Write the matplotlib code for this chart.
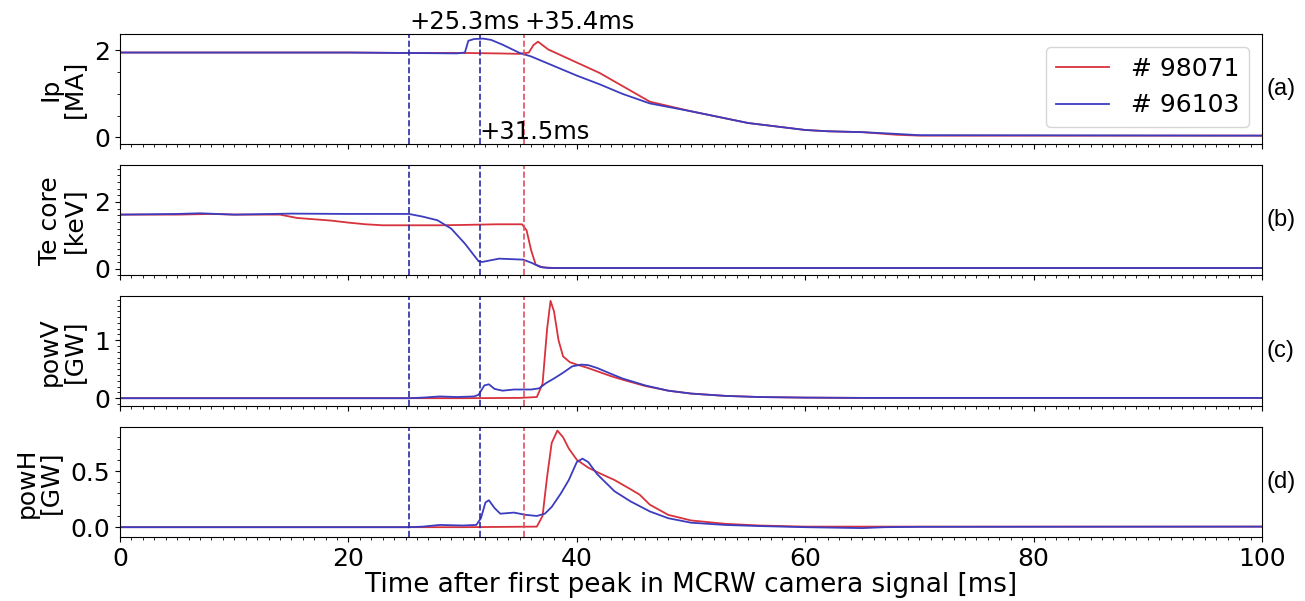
import matplotlib
matplotlib.use("Agg")
import matplotlib.pyplot as plt
from matplotlib.ticker import MultipleLocator

# shot labels
shots = ["# 98071", "# 96103"]

# event times [ms]
t_events = [25.3, 31.5, 35.4]

# Ip [MA]
ip_t_r = [0, 10, 20, 25, 30, 33, 35, 35.8, 36.2, 36.6, 37.5, 38.5, 40, 42, 44, 46.4, 50, 55, 60, 62, 65, 68, 70, 80, 90, 100]
ip_v_r = [1.95, 1.95, 1.95, 1.94, 1.94, 1.93, 1.92, 1.95, 2.12, 2.2, 2.02, 1.9, 1.72, 1.48, 1.18, 0.82, 0.6, 0.33, 0.17, 0.14, 0.12, 0.06, 0.04, 0.04, 0.04, 0.04]
ip_t_b = [0, 10, 20, 25, 29.5, 30.2, 30.5, 31.0, 31.8, 32.5, 33.5, 35, 36, 38, 40, 42, 44, 46.4, 50, 55, 60, 62, 65, 68, 70, 100]
ip_v_b = [1.95, 1.95, 1.95, 1.94, 1.93, 1.95, 2.22, 2.26, 2.27, 2.24, 2.13, 1.94, 1.86, 1.64, 1.42, 1.22, 1.0, 0.78, 0.6, 0.33, 0.17, 0.14, 0.12, 0.08, 0.05, 0.04]

# Te core [keV]
te_t_r = [0, 5, 8, 10, 14, 15.5, 17, 18.5, 20, 21.5, 23, 25, 28, 30, 33, 35.2, 35.6, 36.0, 36.4, 37, 38, 100]
te_v_r = [1.62, 1.62, 1.64, 1.62, 1.62, 1.52, 1.48, 1.44, 1.38, 1.33, 1.30, 1.30, 1.30, 1.31, 1.33, 1.33, 1.15, 0.55, 0.12, 0.04, 0.02, 0.02]
te_t_b = [0, 5, 7, 10, 15, 20, 25.3, 26.5, 27.8, 29, 30.2, 31.4, 31.7, 33.2, 35.3, 36, 36.8, 37.5, 100]
te_v_b = [1.62, 1.64, 1.66, 1.62, 1.65, 1.64, 1.64, 1.56, 1.45, 1.2, 0.75, 0.22, 0.2, 0.3, 0.27, 0.18, 0.05, 0.02, 0.02]

# powV [GW]
pv_t_r = [0, 25, 30, 35, 36.5, 37.0, 37.4, 37.7, 38.0, 38.4, 38.8, 39.4, 40, 41, 42, 43, 44, 46, 48, 50, 53, 56, 60, 65, 100]
pv_v_r = [0, 0, 0, 0.005, 0.02, 0.25, 1.2, 1.68, 1.5, 1.0, 0.72, 0.62, 0.58, 0.52, 0.45, 0.38, 0.32, 0.21, 0.13, 0.08, 0.04, 0.02, 0.01, 0.005, 0.005]
pv_t_b = [0, 25.3, 26.5, 28, 29.5, 31, 31.4, 31.9, 32.3, 32.8, 33.5, 34.5, 36, 36.7, 37.3, 38, 38.8, 39.6, 40.4, 41, 41.8, 43, 44, 46, 48, 50, 53, 56, 60, 65, 100]
pv_v_b = [0, 0, 0.01, 0.03, 0.02, 0.03, 0.06, 0.22, 0.24, 0.16, 0.13, 0.15, 0.15, 0.17, 0.26, 0.34, 0.44, 0.55, 0.58, 0.57, 0.52, 0.42, 0.34, 0.22, 0.13, 0.08, 0.04, 0.02, 0.01, 0.005, 0.005]

# powH [GW]
ph_t_r = [0, 30, 36.5, 37.0, 37.4, 37.8, 38.3, 38.8, 39.3, 40, 41, 42, 43.3, 44.5, 45.5, 46.4, 48, 50, 53, 56, 60, 65, 100]
ph_v_r = [0, 0, 0.005, 0.1, 0.45, 0.75, 0.86, 0.8, 0.7, 0.6, 0.53, 0.48, 0.42, 0.35, 0.29, 0.2, 0.11, 0.06, 0.03, 0.015, 0.005, 0.005, 0.005]
ph_t_b = [0, 25.3, 26.5, 28, 30, 31.2, 31.6, 32.0, 32.3, 32.8, 33.3, 34.5, 35.5, 36.5, 37.2, 37.8, 38.6, 39.3, 40.0, 40.5, 41, 41.8, 43.3, 44.7, 46.4, 48, 50, 53, 56, 60, 65, 67, 70, 100]
ph_v_b = [0, 0, 0.005, 0.02, 0.015, 0.02, 0.08, 0.22, 0.24, 0.17, 0.12, 0.13, 0.11, 0.1, 0.12, 0.18, 0.3, 0.42, 0.58, 0.61, 0.58, 0.47, 0.32, 0.23, 0.14, 0.08, 0.04, 0.02, 0.01, 0.0, -0.008, 0.0, 0.003, 0.005]

RED = "#d8323c"
BLUE = "#3c3cc0"

panels = [
    ("Ip\n[MA]", (ip_t_r, ip_v_r), (ip_t_b, ip_v_b), (-0.16, 2.37), 2, 0.5, "(a)"),
    ("Te core\n[keV]", (te_t_r, te_v_r), (te_t_b, te_v_b), (-0.2, 3.1), 2, 0.2, "(b)"),
    ("powV\n[GW]", (pv_t_r, pv_v_r), (pv_t_b, pv_v_b), (-0.14, 1.76), 1, 0.1, "(c)"),
    ("powH\n[GW]", (ph_t_r, ph_v_r), (ph_t_b, ph_v_b), (-0.09, 0.89), 0.5, 0.1, "(d)"),
]

fig, axes = plt.subplots(4, 1, sharex=True, figsize=(13.05, 6.01), dpi=100)
fig.subplots_adjust(left=0.092, right=0.967, bottom=0.106, top=0.943, hspace=0.19)

for ax, (ylab, red, blue, ylim, major, minor, tag) in zip(axes, panels):
    ax.plot(red[0], red[1], color=RED, lw=1.3, label=shots[0])
    ax.plot(blue[0], blue[1], color=BLUE, lw=1.3, label=shots[1])
    ax.axvline(t_events[0], color="#2a2aa8", ls="--", lw=1.2)
    ax.axvline(t_events[1], color="#2a2aa8", ls="--", lw=1.2)
    ax.axvline(t_events[2], color="#e05060", ls="--", lw=1.2)
    ax.set_ylim(*ylim)
    ax.set_xlim(0, 100)
    ax.yaxis.set_major_locator(MultipleLocator(major))
    ax.yaxis.set_minor_locator(MultipleLocator(minor))
    ax.xaxis.set_major_locator(MultipleLocator(20))
    ax.xaxis.set_minor_locator(MultipleLocator(1))
    ax.tick_params(labelsize=18)
    ax.set_ylabel(ylab, fontsize=18, linespacing=1.0, labelpad=6)
    ax.text(1.004, 0.5, tag, transform=ax.transAxes, fontsize=17,
            family="Liberation Sans", va="center", ha="left")

axes[0].legend(loc="upper right", fontsize=18, handlelength=2.1,
               handletextpad=0.9, borderpad=0.4)
xt = axes[0].get_xaxis_transform()
axes[0].text(t_events[0], 1.0, "+25.3ms", transform=xt, fontsize=17.5, ha="left", va="bottom")
axes[0].text(t_events[2], 1.0, "+35.4ms", transform=xt, fontsize=17.5, ha="left", va="bottom")
axes[0].text(t_events[1], 0.0, "+31.5ms", transform=xt, fontsize=17.5, ha="left", va="bottom")

axes[-1].set_xlabel("Time after first peak in MCRW camera signal [ms]", fontsize=18.8, labelpad=1)

fig.savefig("out.png", dpi=100)
